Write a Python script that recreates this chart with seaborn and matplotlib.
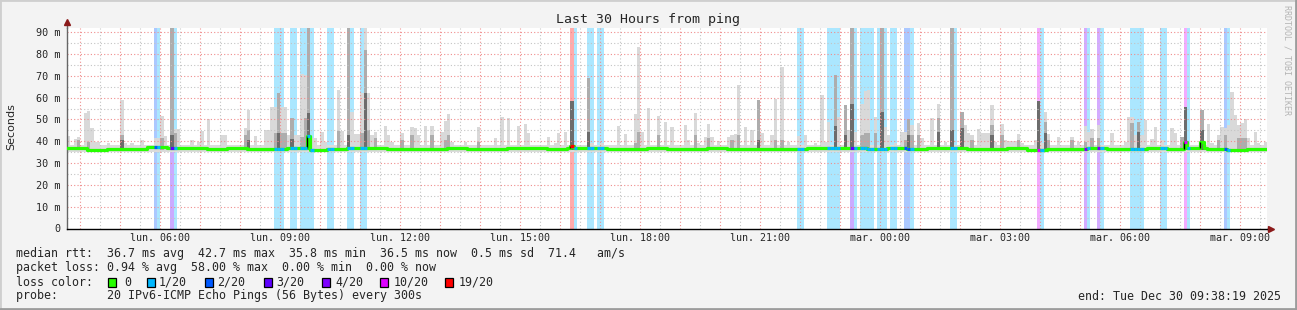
import numpy as np
import matplotlib
matplotlib.use("Agg")
import matplotlib.pyplot as plt
import seaborn as sns
from matplotlib.patches import Rectangle

# ---------------- data ----------------
start_hour = 3 + 40 / 60          # chart starts Monday 03:40
n_steps = 360                     # 5-minute steps over 30 hours

# median rtt (ms), one value per 30 minutes
median_halfhour_ms = [
    36.7, 36.1, 36.4, 36.5, 37.2, 36.8, 36.7, 36.6, 36.9, 36.5,
    36.6, 36.8, 36.2, 36.4, 36.7, 36.9, 36.6, 36.4, 36.5, 36.7,
    36.3, 36.6, 36.8, 36.7, 36.5, 36.9, 37.1, 36.6, 36.4, 36.7,
    36.5, 36.4, 36.9, 36.6, 36.5, 36.3, 36.6, 37.0, 36.8, 36.9,
    36.6, 36.7, 36.5, 36.9, 36.8, 36.6, 36.4, 36.7, 36.2, 36.5,
    36.6, 36.8, 36.4, 36.5, 36.7, 36.6, 36.8, 36.5, 36.2, 36.6]
median_jump_step = [72, 151, 335, 340]
median_jump_ms = [42.6, 38.0, 39.8, 39.6]

# smoke floor / ceiling of the quiet periods (ms)
smoke_floor_ms = 35.3
smoke_ceiling_ms = 38.4

# smoke spikes: step index, max ping, inner (mid) ping, core (dark) ping
nan = float("nan")
spike_step = [0, 2, 3, 5, 6, 7, 8, 9, 12, 16, 17, 19, 22, 26, 27, 28, 29, 31, 32, 33,
              37, 39, 40, 42, 46, 47, 53, 54, 56, 59, 60, 61, 62, 63, 64, 65, 66, 67, 68, 69,
              70, 71, 72, 73, 74, 76, 77, 81, 82, 84, 85, 86, 87, 88, 89, 90, 91, 92, 95, 96,
              97, 100, 103, 104, 105, 107, 109, 112, 113, 114, 115, 119, 123, 128, 130, 132, 135, 137, 138, 144,
              146, 147, 149, 151, 156, 157, 160, 165, 167, 170, 171, 172, 174, 177, 179, 181, 185, 186, 188, 189,
              191, 192, 193, 195, 198, 199, 200, 201, 203, 205, 207, 208, 211, 212, 214, 216, 219, 221, 224, 226,
              227, 228, 230, 231, 233, 234, 235, 236, 238, 239, 240, 242, 244, 245, 246, 248, 250, 251, 252, 253,
              255, 256, 259, 261, 263, 265, 268, 269, 270, 271, 273, 274, 275, 276, 277, 278, 280, 281, 282, 283,
              284, 285, 286, 290, 291, 292, 293, 294, 297, 301, 303, 305, 306, 307, 309, 313, 317, 318, 319, 320,
              321, 322, 323, 325, 326, 328, 331, 332, 334, 335, 336, 340, 342, 343, 345, 346, 347, 348, 349, 350,
              351, 352, 353, 354, 356, 357, 359]
spike_max_ms = [42.4, 40.9, 42.0, 53.1, 53.9, 46.3, 39.8, 39.8, 39.4, 59.0, 39.1, 39.0, 40.6, 41.4, 41.4, 51.8, 42.6, 92.0, 45.6, 45.6,
                40.6, 39.8, 44.7, 50.1, 42.9, 42.9, 46.3, 54.4, 42.6, 45.2, 45.2, 55.9, 55.9, 62.0, 55.9, 55.9, 42.9, 50.5, 42.9, 42.9,
                70.7, 70.4, 92.0, 41.4, 41.4, 44.4, 39.8, 63.5, 44.7, 92.0, 53.6, 43.2, 43.2, 62.0, 92.0, 62.0, 42.9, 44.4, 47.0, 42.9,
                39.8, 43.6, 46.7, 45.9, 42.9, 47.0, 47.0, 44.4, 49.4, 52.5, 39.8, 39.8, 46.7, 41.7, 51.3, 50.5, 47.2, 48.1, 44.0, 42.1,
                39.1, 44.0, 44.4, 58.5, 68.9, 39.1, 39.1, 47.0, 43.4, 52.5, 83.4, 44.4, 55.1, 51.6, 49.0, 46.4, 47.5, 40.6, 52.8, 39.1,
                41.8, 47.8, 41.8, 40.3, 41.8, 42.9, 43.4, 65.8, 46.4, 45.2, 59.0, 43.6, 42.9, 59.4, 74.0, 39.8, 42.4, 42.9, 39.1, 61.2,
                39.8, 49.0, 70.4, 51.3, 56.7, 45.2, 92.0, 44.4, 57.1, 63.2, 63.5, 51.3, 92.0, 46.7, 42.9, 39.1, 44.4, 44.4, 50.1, 47.5,
                48.5, 41.4, 50.5, 57.1, 39.8, 92.0, 53.3, 47.5, 44.0, 42.9, 45.6, 44.0, 44.0, 44.0, 56.7, 39.8, 48.0, 40.6, 40.0, 40.0,
                40.0, 43.4, 39.1, 40.6, 58.5, 39.1, 53.3, 43.4, 42.1, 41.8, 39.8, 47.0, 44.4, 45.5, 47.5, 44.0, 39.8, 51.3, 51.3, 42.9,
                49.0, 42.9, 49.8, 40.9, 46.6, 40.6, 45.9, 43.6, 42.0, 55.7, 39.1, 54.4, 48.0, 39.1, 42.9, 46.7, 45.9, 47.5, 62.8, 52.0,
                47.5, 48.2, 50.1, 41.4, 44.4, 39.1, 39.8]
spike_mid_ms = [nan, nan, 40.6, nan, 39.5, nan, nan, nan, nan, 42.9, nan, nan, nan, nan, nan, 41.4, nan, 92.0, 44.0, nan,
                nan, nan, nan, nan, nan, nan, 42.9, 45.2, nan, nan, nan, nan, 43.6, 62.0, 43.6, 43.6, nan, 50.5, nan, nan,
                42.0, 50.5, 92.0, nan, nan, nan, nan, 44.7, nan, 92.0, nan, nan, nan, 44.0, 81.9, 45.0, nan, 41.4, nan, nan,
                nan, 40.6, 42.9, nan, nan, nan, 42.9, nan, 40.6, 42.9, nan, nan, 39.8, nan, nan, nan, nan, nan, nan, nan,
                nan, nan, nan, 58.5, 68.9, nan, nan, nan, nan, 39.1, 44.4, nan, nan, 42.9, nan, nan, nan, nan, 42.9, nan,
                nan, 41.4, nan, nan, nan, 40.6, nan, 42.9, nan, nan, 59.0, nan, nan, 40.6, 40.6, nan, nan, nan, nan, nan,
                nan, nan, 70.4, nan, 56.7, nan, 92.0, nan, 42.9, 43.6, 43.6, 43.6, 92.0, nan, nan, nan, nan, 40.6, 50.1, 42.9,
                42.9, nan, nan, 50.5, nan, 92.0, 53.3, nan, nan, 40.6, nan, nan, nan, nan, 47.5, nan, 42.9, nan, nan, nan,
                nan, 40.6, nan, nan, 58.5, nan, 49.0, 40.6, nan, 40.6, nan, 39.8, nan, 41.4, 41.4, nan, nan, nan, 48.5, nan,
                49.0, nan, nan, nan, nan, nan, nan, nan, 42.0, 55.7, nan, 54.4, nan, nan, 40.6, nan, 42.9, nan, nan, nan,
                41.4, 41.4, 41.4, nan, nan, nan, nan]
spike_dark_ms = [nan, nan, nan, nan, nan, nan, nan, nan, nan, 40.6, nan, nan, nan, nan, nan, nan, nan, 43.0, nan, nan,
                 nan, nan, nan, nan, nan, nan, nan, 40.6, nan, nan, nan, nan, nan, 44.0, nan, nan, nan, 41.0, nan, nan,
                 nan, nan, 53.1, nan, nan, nan, nan, nan, nan, 43.0, nan, nan, nan, nan, 62.0, nan, nan, nan, nan, nan,
                 nan, nan, nan, nan, nan, nan, nan, nan, nan, nan, nan, nan, nan, nan, nan, nan, nan, nan, nan, nan,
                 nan, nan, nan, 58.5, 44.4, nan, nan, nan, nan, nan, nan, nan, nan, nan, nan, nan, nan, nan, nan, nan,
                 nan, nan, nan, nan, nan, nan, nan, nan, nan, nan, 40.6, nan, nan, nan, nan, nan, nan, nan, nan, nan,
                 nan, nan, 47.0, nan, 42.9, nan, 57.1, nan, nan, nan, nan, nan, 53.6, nan, nan, nan, nan, nan, 42.9, nan,
                 nan, nan, nan, 44.4, nan, 45.0, 46.0, nan, nan, nan, nan, nan, nan, nan, 42.9, nan, nan, nan, nan, nan,
                 nan, nan, nan, nan, 58.5, nan, 43.6, nan, nan, nan, nan, nan, nan, nan, nan, nan, nan, nan, nan, nan,
                 44.4, nan, nan, nan, nan, nan, nan, nan, nan, 55.7, nan, 45.0, nan, nan, nan, nan, nan, nan, nan, nan,
                 nan, nan, nan, nan, nan, nan, nan]

# packet-loss steps and their loss class
loss_step = [26, 27, 31, 32, 62, 63, 64, 67, 68, 70, 71, 72, 73, 78, 79, 84, 85, 88, 89,
             151, 152, 156, 157, 159, 160, 219, 220, 228, 229, 230, 231, 235, 236,
             238, 239, 240, 241, 243, 244, 245, 247, 248, 251, 252, 253, 265, 266,
             291, 292, 305, 306, 309, 310, 319, 320, 321, 322, 328, 329, 335, 336, 347, 348]
loss_level = ['2/20', '1/20', '3/20', '1/20', '1/20', '1/20', '1/20', '1/20', '1/20', '1/20', '1/20', '1/20', '1/20',
              '1/20', '1/20', '1/20', '1/20', '1/20', '1/20',
              '19/20', '1/20', '1/20', '1/20', '1/20', '1/20', '1/20', '1/20', '1/20', '1/20', '1/20', '1/20', '3/20', '1/20',
              '1/20', '1/20', '1/20', '1/20', '1/20', '1/20', '1/20', '1/20', '1/20', '2/20', '2/20', '1/20', '1/20', '1/20',
              '10/20', '1/20', '4/20', '1/20', '4/20', '1/20', '1/20', '1/20', '1/20', '1/20', '1/20', '1/20', '10/20', '1/20',
              '2/20', '1/20']

loss_legend_labels = ['0', '1/20', '2/20', '3/20', '4/20', '10/20', '19/20']
loss_legend_colors = ['#26ff00', '#00b8ff', '#0059ff', '#5e00ff', '#7e00ff', '#dd00ff', '#ff0000']

y_ticks_ms = [0, 10, 20, 30, 40, 50, 60, 70, 80, 90]
y_tick_labels = ['0', '10 m', '20 m', '30 m', '40 m', '50 m', '60 m', '70 m', '80 m', '90 m']
x_tick_hours = [6, 9, 12, 15, 18, 21, 24, 27, 30, 33]
x_tick_labels = ['lun. 06:00', 'lun. 09:00', 'lun. 12:00', 'lun. 15:00', 'lun. 18:00',
                 'lun. 21:00', 'mar. 00:00', 'mar. 03:00', 'mar. 06:00', 'mar. 09:00']

title = "Last 30 Hours from ping"
legend_lines = [
    "median rtt:  36.7 ms avg  42.7 ms max  35.8 ms min  36.5 ms now  0.5 ms sd  71.4   am/s",
    "packet loss: 0.94 % avg  58.00 % max  0.00 % min  0.00 % now",
    "loss color:",
    "probe:       20 IPv6-ICMP Echo Pings (56 Bytes) every 300s",
]
end_text = "end: Tue Dec 30 09:38:19 2025"

# ---------------- figure ----------------
sns.set_style("white")
mono = "DejaVu Sans Mono"
plt.rcParams['font.family'] = ['DejaVu Sans']

W, H = 1297, 310
fig = plt.figure(figsize=(W / 100, H / 100), dpi=100)
fig.patch.set_facecolor('#f3f3f3')

def fx(px):
    return px / W

def fy(py):
    return 1 - py / H

x0_px, x1_px, y0_px, y1_px = 67, 1267, 228.5, 27.9
ax = fig.add_axes([fx(x0_px), fy(y0_px), (x1_px - x0_px) / W, (y0_px - y1_px) / H])
ax.set_facecolor('white')
step_h = 1 / 12
t_start = start_hour
t_end = start_hour + n_steps * step_h
ax.set_xlim(t_start, t_end)
ax.set_ylim(0, 92.0)

level_color = dict(zip(loss_legend_labels, loss_legend_colors))

# loss background bands
for s, lv in zip(loss_step, loss_level):
    ax.axvspan(t_start + s * step_h, t_start + (s + 1) * step_h, color=level_color[lv],
               alpha=0.33, lw=0, zorder=0.5)

# smoke
steps = np.arange(n_steps)
ts = t_start + steps * step_h
ax.bar(ts, smoke_ceiling_ms - smoke_floor_ms, bottom=smoke_floor_ms, width=step_h,
       align='edge', color='#dcdcdc', lw=0, zorder=1)
sx = t_start + np.array(spike_step) * step_h
smax = np.array(spike_max_ms)
smid = np.array(spike_mid_ms)
sdark = np.array(spike_dark_ms)
ax.bar(sx, smax - 35.6, bottom=35.6, width=step_h, align='edge', color='#d9d9d9', lw=0, zorder=1.1)
m = ~np.isnan(smid)
ax.bar(sx[m], smid[m] - 35.9, bottom=35.9, width=step_h, align='edge', color='#adadad', lw=0, zorder=1.2)
m = ~np.isnan(sdark)
ax.bar(sx[m], sdark[m] - 36.2, bottom=36.2, width=step_h, align='edge', color='#6c6c6c', lw=0, zorder=1.3)

# grid (drawn over the smoke, as rrdtool does)
dot = (0, (1, 2))
for hh in np.arange(4.5, 34, 1.0):
    ax.axvline(hh, color='#c4c4c4', lw=0.8, ls=dot, zorder=1.6)
for yy in range(5, 91, 10):
    ax.axhline(yy, color='#c4c4c4', lw=0.8, ls=dot, zorder=1.6)
for hh in range(4, 34):
    ax.axvline(hh, color='#f08c8c', lw=0.8, ls=dot, zorder=1.7)
for yy in range(10, 91, 10):
    ax.axhline(yy, color='#f08c8c', lw=0.8, ls=dot, zorder=1.7)

# median line
med = np.repeat(np.array(median_halfhour_ms), 6)
for s, v in zip(median_jump_step, median_jump_ms):
    med[s] = v
tx = np.append(ts, t_end)
my = np.append(med, med[-1])
sns.lineplot(x=tx, y=my, ax=ax, color='#26ff00', lw=2.3, drawstyle='steps-post',
             zorder=3, estimator=None, sort=False)
for s in median_jump_step:
    ax.vlines(t_start + s * step_h, min(med[s - 1], med[s]), max(med[s - 1], med[s]),
              color='black', lw=1.0, zorder=3.1)
for s, lv in zip(loss_step, loss_level):
    ax.hlines(med[s], t_start + s * step_h, t_start + (s + 1) * step_h,
              color=level_color[lv], lw=2.3, zorder=3.2)

# axes styling
for side in ['top', 'right']:
    ax.spines[side].set_visible(False)
ax.spines['left'].set_color('#666666')
ax.spines['left'].set_linewidth(1.0)
ax.spines['bottom'].set_color('black')
ax.spines['bottom'].set_linewidth(1.0)
ax.set_yticks(y_ticks_ms, y_tick_labels, fontfamily=mono, fontsize=7.3)
ax.set_xticks(x_tick_hours, x_tick_labels, fontfamily=mono, fontsize=7.2)
ax.set_xticks(np.arange(4, 34, 1.0), minor=True)
ax.tick_params(axis='y', length=0, pad=5)
ax.tick_params(axis='x', which='both', length=2, color='#ff6666', pad=1.5, direction='out')
ax.set_xlabel('')
ax.set_ylabel('')

# axis arrows
ax.plot([t_start, t_start], [92.0, 94.5], color='#666666', lw=1.0, clip_on=False, zorder=4)
ax.plot([t_start], [94.6], marker='^', ms=4.5, color='#8b1a1a', clip_on=False, zorder=4)
ax.plot([t_end, t_end + 0.06], [0, 0], color='black', lw=1.0, clip_on=False, zorder=4)
ax.plot([t_end + 0.09], [0], marker='>', ms=4.5, color='#8b1a1a', clip_on=False, zorder=4)

# texts
fig.text(fx(648), fy(19), title, ha='center', va='center', fontfamily=mono, fontsize=9.5)
fig.text(fx(11), fy(127), 'Seconds', ha='center', va='center', rotation=90, fontsize=8)
fig.text(fx(1287), fy(5), 'RRDTOOL / TOBI OETIKER', ha='center', va='top', rotation=-90,
         fontfamily=mono, fontsize=6, color='#b4b4b4')

for line, py in zip(legend_lines, [253.5, 267.5, 282, 296]):
    fig.text(fx(16), fy(py), line, ha='left', va='center', fontfamily=mono, fontsize=8.4)
fig.text(fx(1281), fy(296), end_text, ha='right', va='center', fontfamily=mono, fontsize=8.4)

sq_x = [108, 147, 205, 264, 322, 380, 445]
lab_x = [124, 159, 217, 276, 335, 394, 459]
for c, lbl, qx, lx in zip(loss_legend_colors, loss_legend_labels, sq_x, lab_x):
    fig.patches.append(Rectangle((fx(qx), fy(286.5)), 8 / W, 9 / H, transform=fig.transFigure,
                                 facecolor=c, edgecolor='black', lw=0.9))
    fig.text(fx(lx), fy(282), lbl, ha='left', va='center', fontfamily=mono, fontsize=8.4)

# outer frame (3D-like border)
fig.patches.append(Rectangle((0, 0), 1, 1, transform=fig.transFigure, fill=False,
                             edgecolor='#cfcfcf', lw=2))
fig.add_artist(plt.Line2D([0, 1], [fy(309), fy(309)], transform=fig.transFigure, color='#9c9c9c', lw=2))
fig.add_artist(plt.Line2D([fx(1296), fx(1296)], [0, 1], transform=fig.transFigure, color='#9c9c9c', lw=2))

fig.savefig('out.png', dpi=100, facecolor=fig.get_facecolor())
